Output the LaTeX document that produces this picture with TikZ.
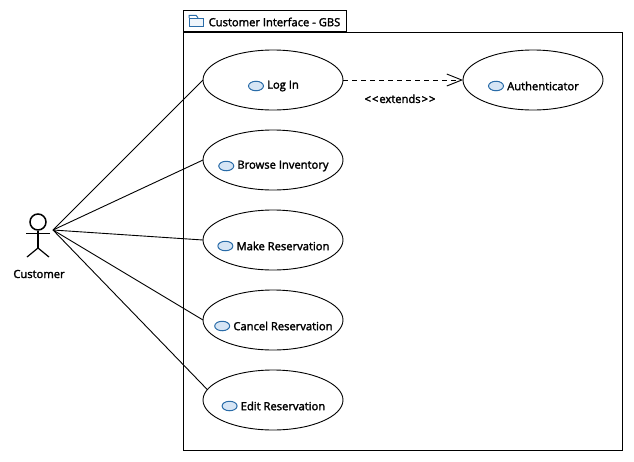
\documentclass[tikz,border=0pt]{standalone}
\usepackage{fontspec}
\setmainfont{Open Sans}
\usetikzlibrary{positioning,shapes.geometric,arrows.meta}
\definecolor{iconfill}{RGB}{214,229,245}
\definecolor{iconline}{RGB}{42,108,168}
\tikzset{
	usecase/.style={draw, ellipse, minimum width=140pt, minimum height=60pt, inner sep=0pt, outer sep=0pt, line width=0.9pt},
	uctext/.style={inner sep=0pt, font=\fontsize{11.2}{13}\selectfont\special{pdf:code 2 Tr 0.25 w}},
	ucicon/.style={draw=iconline, fill=iconfill, ellipse, minimum width=15pt, minimum height=9.5pt, inner sep=0pt, line width=1pt},
	assoc/.style={line width=0.9pt},
}
\begin{document}
\begin{tikzpicture}[x=1pt,y=-1pt]
	\useasboundingbox (0,0) rectangle (634,461);
	
	% package frame
	\node[draw, line width=0.9pt, minimum width=439pt, minimum height=418pt, inner sep=0pt] (pkg) at (403,241) {};
	\node[draw, line width=0.9pt, minimum width=163pt, minimum height=21pt, inner sep=0pt, above right=0pt and 0pt of pkg.north west, anchor=south west] (tab) {};
	\node[uctext, anchor=west] (pkgtext) at (208.5,22) {Customer Interface - GBS};
	\node[draw=iconline, fill=iconfill!40, line width=1pt, minimum width=14pt, minimum height=8.5pt, inner sep=0pt] (folder) at (196.5,22.5) {};
	\draw[iconline, line width=1pt] (folder.north west) -- ++(0,-2.5) -- ++(7,0) -- ++(2,2.5);
	
	% use cases
	\node[usecase] (login) at (273,80) {};
	\node[usecase, below=20pt of login] (browse) {};
	\node[usecase, below=20pt of browse] (make) {};
	\node[usecase, below=20pt of make] (cancel) {};
	\node[usecase, below=20pt of cancel] (edit) {};
	\node[usecase, right=120pt of login] (auth) {};
	
	\foreach \name/\label in {login/Log In, browse/Browse Inventory, make/Make Reservation, cancel/Cancel Reservation, edit/Edit Reservation, auth/Authenticator} {
		\node[uctext] (\name-text) at ([shift={(10,6)}]\name.center) {\label};
		\node[ucicon, left=3pt of \name-text] (\name-icon) {};
	}
	
	% actor
	\node[draw, circle, line width=1.5pt, minimum size=16pt, inner sep=0pt] (head) at (38,222) {};
	\coordinate (hip) at (38,248);
	\coordinate[left=12pt of head.south, yshift=-2.5pt] (armL);
	\coordinate[right=12pt of head.south, yshift=-2.5pt] (armR);
	\coordinate (footL) at (27,257);
	\coordinate (footR) at (49,257);
	\draw[line width=1.5pt] (head) -- (hip);
	\draw[line width=1.1pt] (armL) -- (armR);
	\draw[line width=1.2pt] (footL) -- (hip) -- (footR);
	\node[uctext] (actor) at (39,274) {Customer};
	\coordinate (hand) at (53,230);
	
	\draw[assoc] (hand) -- (login.west);
	\draw[assoc] (hand) -- (browse.west);
	\draw[assoc] (hand) -- (make.west);
	\draw[assoc] (hand) -- (cancel.west);
	\draw[assoc] (hand) -- (edit.171);
	
	\draw[assoc, dashed, dash pattern=on 5pt off 4pt, -{Straight Barb[length=15pt,width=12pt]}] (login) -- node[below=14pt, uctext, xshift=-3pt] (extlabel) {<\kern1pt<\kern1pt extends\kern1pt>\kern1pt>} (auth);
\end{tikzpicture}
\end{document}
